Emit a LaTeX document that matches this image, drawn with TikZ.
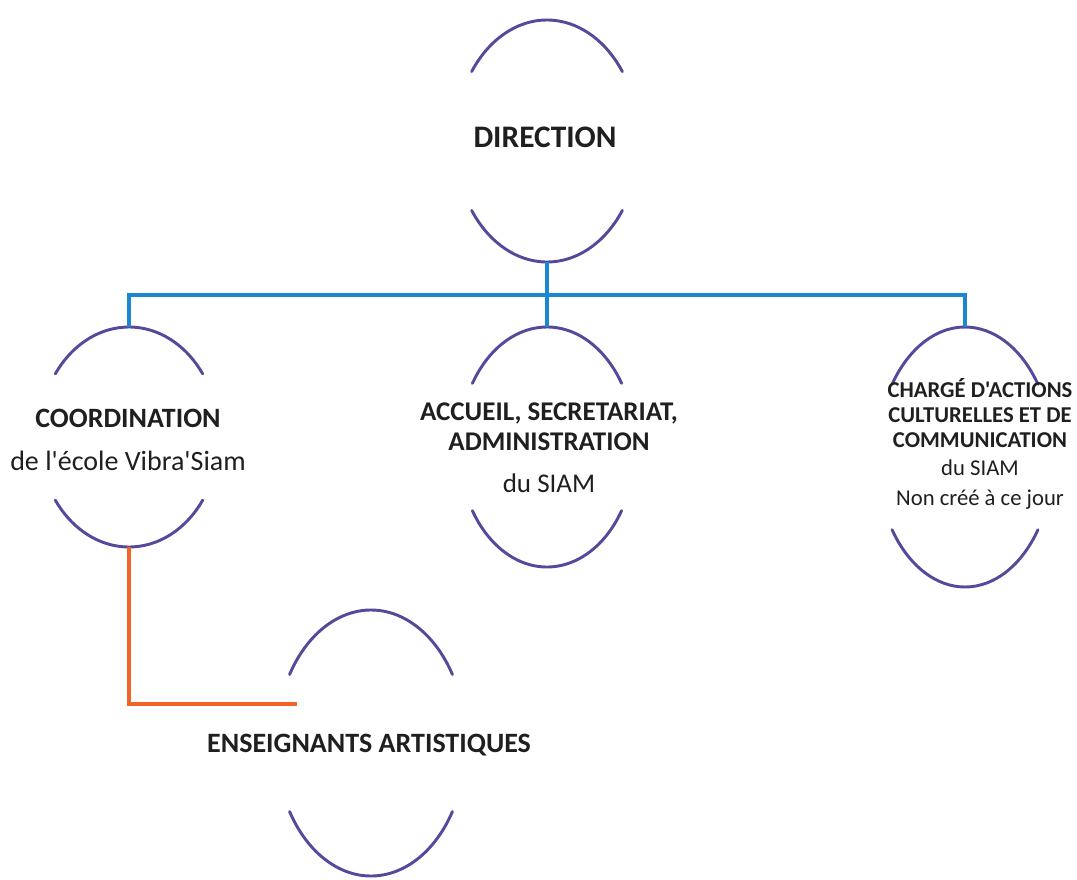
\documentclass[tikz,border=0pt]{standalone}
\usepackage{fontspec}
\setmainfont[Ligatures=TeXOff]{Carlito}
\usetikzlibrary{shapes.geometric}
\definecolor{ovalc}{RGB}{88,72,155}
\definecolor{bluec}{RGB}{25,135,210}
\definecolor{orangec}{RGB}{240,100,40}
\tikzset{
  arcline/.style={draw=ovalc, line width=2.2pt, line cap=round},
  oval/.style={ellipse, draw=none, inner sep=0pt},
  bluelink/.style={draw=bluec, line width=2.4pt},
  orangelink/.style={draw=orangec, line width=2.4pt},
  lbl/.style={align=center, anchor=base, inner sep=0pt, text=black!88}
}
\newcommand\ovarcs[4]{%
  \draw[arcline] ([shift={({-(#2)*cos(#4)},{-(#3)*sin(#4)})}]#1.center) arc[start angle={180+#4}, end angle={360-#4}, x radius=#2, y radius=#3];
  \draw[arcline] ([shift={({(#2)*cos(#4)},{(#3)*sin(#4)})}]#1.center) arc[start angle=#4, end angle={180-#4}, x radius=#2, y radius=#3];
}
\begin{document}
\begin{tikzpicture}[x=0.75pt, y=-0.75pt]
\useasboundingbox (0,0) rectangle (1077,879);
% ovals
\node[oval, minimum width=138pt, minimum height=181.5pt] (dir) at (547,141) {};
\node[oval, minimum width=135pt, minimum height=165pt] (coord) at (129,437) {};
\node[oval, minimum width=132pt, minimum height=180pt] (acc) at (547,447) {};
\node[oval, minimum width=132pt, minimum height=195pt] (charge) at (965,457) {};
\node[oval, minimum width=142.5pt, minimum height=199.5pt] (ens) at (371,743) {};
\ovarcs{dir}{92}{121}{35}
\ovarcs{coord}{90}{110}{35}
\ovarcs{acc}{88}{120}{32}
\ovarcs{charge}{88}{130}{34}
\ovarcs{ens}{95}{133}{31}
% texts (base anchor = baseline of the last line)
\node[lbl, font={\fontsize{23.5pt}{28pt}\selectfont\bfseries}] (dirT) at (545,147) {DIRECTION};
\node[lbl, font={\fontsize{21pt}{32.25pt}\selectfont}] (coordT) at (128,470) {\textbf{COORDINATION}\\de l'école Vibra'Siam};
\node[lbl, font={\fontsize{20.25pt}{22.5pt}\selectfont}] (accT) at (549,492) {\textbf{ACCUEIL, SECRETARIAT,}\\\textbf{ADMINISTRATION}\\[9pt]du SIAM};
\node[lbl, font={\fontsize{17pt}{18.75pt}\selectfont}] (chargeT) at (980,505) {\textbf{CHARGÉ D'ACTIONS}\\\textbf{CULTURELLES ET DE}\\\textbf{COMMUNICATION}\\[2.25pt]du SIAM\\[3.75pt]Non créé à ce jour};
\node[lbl, font={\fontsize{21pt}{25pt}\selectfont\bfseries}] (ensT) at (369,752) {ENSEIGNANTS ARTISTIQUES};
% connectors
\coordinate (junc) at (547,295);
\coordinate (ensL) at (297,704);
\draw[bluelink] (dir.south) -- (junc);
\draw[bluelink] (junc) -- (acc.north);
\draw[bluelink] (coord.north) |- (junc) -| (charge.north);
\draw[orangelink] (coord.south) |- (ensL);
\end{tikzpicture}
\end{document}
